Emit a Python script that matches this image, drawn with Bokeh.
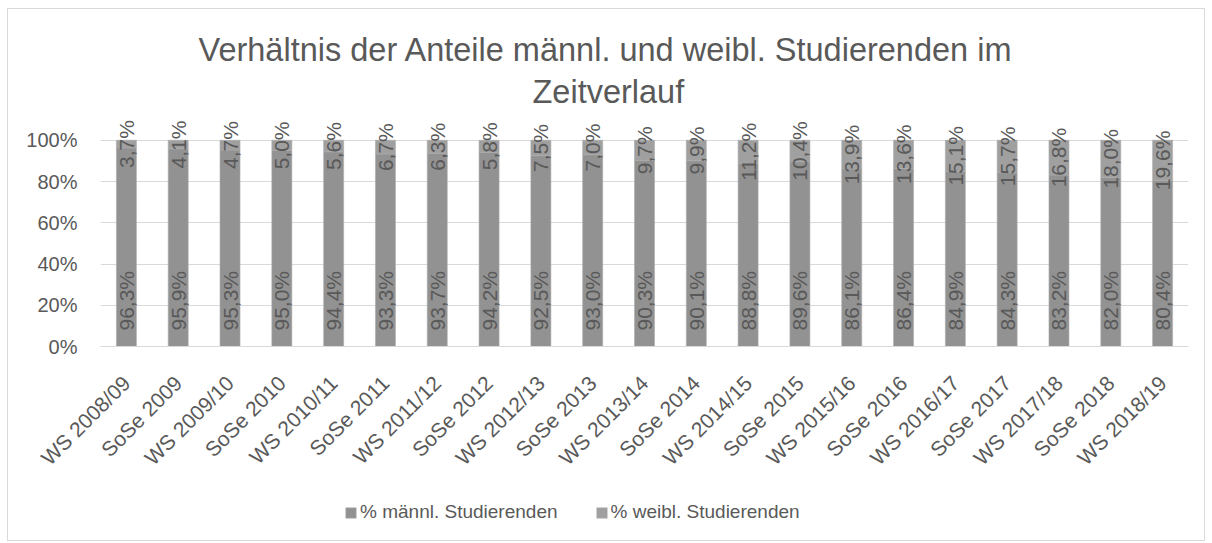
from math import pi
from bokeh.plotting import figure
from bokeh.layouts import column
from bokeh.models import (ColumnDataSource, FactorRange, Range1d, FixedTicker,
                          NumeralTickFormatter, Legend, LegendItem, Title)
from bokeh.core.properties import value
from bokeh.embed import file_html
from bokeh.resources import INLINE

# ---- data ----
semesters = ["WS 2008/09", "SoSe 2009", "WS 2009/10", "SoSe 2010", "WS 2010/11",
             "SoSe 2011", "WS 2011/12", "SoSe 2012", "WS 2012/13", "SoSe 2013",
             "WS 2013/14", "SoSe 2014", "WS 2014/15", "SoSe 2015", "WS 2015/16",
             "SoSe 2016", "WS 2016/17", "SoSe 2017", "WS 2017/18", "SoSe 2018",
             "WS 2018/19"]
male_pct = [96.3, 95.9, 95.3, 95.0, 94.4, 93.3, 93.7, 94.2, 92.5, 93.0, 90.3,
            90.1, 88.8, 89.6, 86.1, 86.4, 84.9, 84.3, 83.2, 82.0, 80.4]
female_pct = [3.7, 4.1, 4.7, 5.0, 5.6, 6.7, 6.3, 5.8, 7.5, 7.0, 9.7,
              9.9, 11.2, 10.4, 13.9, 13.6, 15.1, 15.7, 16.8, 18.0, 19.6]
y_ticks = [0, 0.2, 0.4, 0.6, 0.8, 1.0]
series_names = ["% männl. Studierenden", "% weibl. Studierenden"]
title_lines = ["Verhältnis der Anteile männl. und weibl. Studierenden im",
               "Zeitverlauf"]

FONT = "Liberation Sans"
TXT = "#595959"
GRID = "#d9d9d9"
C_MALE = "#929292"
C_FEMALE = "#a0a0a0"
EDGE = "#ababab"

def fmt(v):
    return f"{v:.1f}".replace(".", ",") + "%"

src = ColumnDataSource(dict(
    sem=semesters,
    male=[v / 100 for v in male_pct],
    female=[v / 100 for v in female_pct],
    female_mid=[(m + f / 2) / 100 for m, f in zip(male_pct, female_pct)],
    zero=[0] * len(semesters),
    male_lbl=[fmt(v) for v in male_pct],
    female_lbl=[fmt(v) for v in female_pct],
))

W = 1196
p = figure(width=W, height=471, output_backend="svg", toolbar_location=None,
           x_range=FactorRange(*semesters, range_padding=0),
           y_range=Range1d(0, 1.12),
           min_border_left=92, min_border_right=16,
           min_border_top=106, min_border_bottom=131)
p.outline_line_color = None
p.background_fill_color = "white"
p.border_fill_color = "white"

rs = p.vbar_stack(["male", "female"], x="sem", width=0.386, source=src,
                  color=[C_MALE, C_FEMALE], line_color=EDGE, line_width=0.6)

# value labels
p.text(x="sem", y="zero", text="male_lbl", source=src, angle=pi / 2,
       text_align="left", text_baseline="middle", y_offset=-16,
       text_font=value(FONT), text_font_size="21px", text_color=TXT)
p.text(x="sem", y="female_mid", text="female_lbl", source=src, angle=pi / 2,
       text_align="center", text_baseline="middle",
       text_font=value(FONT), text_font_size="21px", text_color=TXT)

# axes
p.yaxis.ticker = FixedTicker(ticks=y_ticks)
p.yaxis.formatter = NumeralTickFormatter(format="0%")
p.yaxis.axis_line_color = None
p.yaxis.major_tick_line_color = None
p.yaxis.minor_tick_line_color = None
p.yaxis.major_label_standoff = 17
p.yaxis.major_label_text_font = FONT
p.yaxis.major_label_text_font_size = "20px"
p.yaxis.major_label_text_color = TXT

p.xaxis.axis_line_color = GRID
p.xaxis.major_tick_line_color = None
p.xaxis.minor_tick_line_color = None
p.xaxis.major_label_orientation = pi / 4
p.xaxis.major_label_standoff = 27
p.xaxis.major_label_text_font = FONT
p.xaxis.major_label_text_font_size = "21px"
p.xaxis.major_label_text_color = TXT

p.xgrid.grid_line_color = None
p.ygrid.grid_line_color = GRID
p.ygrid.ticker = FixedTicker(ticks=y_ticks)

# title (two lines)
p.add_layout(Title(text=title_lines[1], align="left", offset=432,
                   text_font=FONT, text_font_size="32.5px", text_color=TXT,
                   text_font_style="normal", standoff=12), "above")
p.add_layout(Title(text=title_lines[0], align="left", offset=98,
                   text_font=FONT, text_font_size="32.5px", text_color=TXT,
                   text_font_style="normal", standoff=-4), "above")

# legend strip below the chart (frame is aligned with the main plot frame)
p2 = figure(width=W, height=60, output_backend="svg", toolbar_location=None,
            x_range=Range1d(0, 1), y_range=Range1d(0, 1), min_border=0)
p2.axis.visible = False
p2.grid.visible = False
p2.outline_line_color = None
# swatch proxies for the legend, kept outside the visible range
r_m = p2.vbar(x=[-1], top=[-1], width=0.1, color=C_MALE, line_color=EDGE, line_width=0.6)
r_f = p2.vbar(x=[-1], top=[-1], width=0.1, color=C_FEMALE, line_color=EDGE, line_width=0.6)
legend = Legend(items=[LegendItem(label=series_names[0], renderers=[r_m]),
                       LegendItem(label=series_names[1], renderers=[r_f])],
                orientation="horizontal", location=(244, 17),
                glyph_width=13, glyph_height=13, label_standoff=3, spacing=37,
                label_text_font=FONT, label_text_font_size="19px",
                label_text_color=TXT, border_line_color=None,
                background_fill_alpha=0, padding=0, margin=0)
p2.add_layout(legend, "center")

layout = column(p, p2, spacing=0)
layout.margin = (8, 0, 0, 7)
layout.styles = {"border": "1px solid #d9d9d9"}

open("out.html", "w").write(file_html(layout, INLINE))
